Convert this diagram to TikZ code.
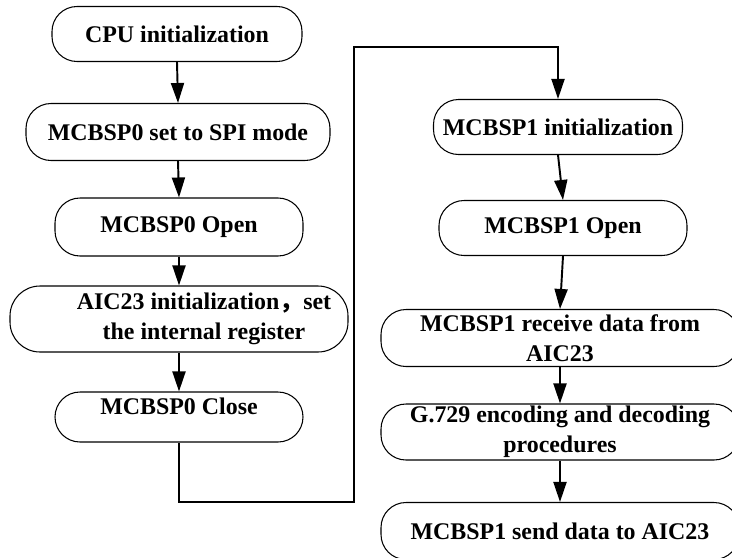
\documentclass[tikz,border=0pt]{standalone}
\usepackage{fontspec}
\setmainfont{Liberation Serif}
\newfontfamily\cjk{Noto Sans CJK SC}
\usetikzlibrary{arrows.meta}
\tikzset{
  >={Triangle[length=4mm,width=2.6mm]},
  stage/.style={draw=black,line width=0.6pt,fill=white,rounded corners=5mm,
    minimum width=#1,minimum height=11mm,inner sep=1pt,align=center,
    font=\fontsize{13.6}{17}\selectfont\bfseries},
  stage/.default=50mm,
  flow/.style={->,line width=1.1pt,draw=black},
}

\begin{document}
\begin{tikzpicture}
  \useasboundingbox (0,0) rectangle (14.64,-11.14);
  \clip (0,0) rectangle (14.64,-11.14);
  % left column
  \node[stage=50mm] (cpu) at (3.54,-0.68) {CPU initialization};
  \node[stage=60.8mm,minimum height=11.4mm] (spi) at (3.56,-2.64) {MCBSP0 set to SPI mode};
  \node[stage=49.6mm,minimum height=11.6mm] (open0) at (3.58,-4.54) {MCBSP0 Open};
  \node[stage=67.6mm,minimum height=13.2mm,rounded corners=6mm] (aic) at (3.58,-6.38)
    {\hspace*{1cm}AIC23 initialization{\cjk ，}set\\\hspace*{1cm}the internal register};
  \node[stage=49.6mm,minimum height=10mm,text depth=4.5mm] (close0) at (3.58,-8.34) {MCBSP0 Close};
  % right column
  \node[stage=49.8mm] (init1) at (11.16,-2.54) {MCBSP1 initialization};
  \node[stage=49.6mm] (open1) at (11.26,-4.56) {MCBSP1 Open};
  \node[stage=71.6mm,minimum height=11.4mm] (recv) at (11.2,-6.76) {MCBSP1 receive data from\\AIC23};
  \node[stage=71.6mm,minimum height=11.2mm] (g729) at (11.2,-8.64) {G.729 encoding and decoding\\procedures};
  \node[stage=71.6mm,minimum height=11.4mm] (send) at (11.2,-10.62) {MCBSP1 send data to AIC23};
  \coordinate (low) at (7.08,-10.04);
  \coordinate (high) at (7.08,-0.94);

  \draw[flow] (cpu.south) -- (spi.north);
  \draw[flow] (spi.south) -- (open0.north);
  \draw[flow] (open0.south) -- (aic.north);
  \draw[flow] (aic.south) -- (close0.north);
  \draw[flow] (close0.south) |- (low) -- (high) -| (init1.north);
  \draw[flow] (init1.south) -- (open1.north);
  \draw[flow] (open1.south) -- (recv.north);
  \draw[flow] (recv.south) -- (g729.north);
  \draw[flow] (g729.south) -- (send.north);
\end{tikzpicture}
\end{document}
